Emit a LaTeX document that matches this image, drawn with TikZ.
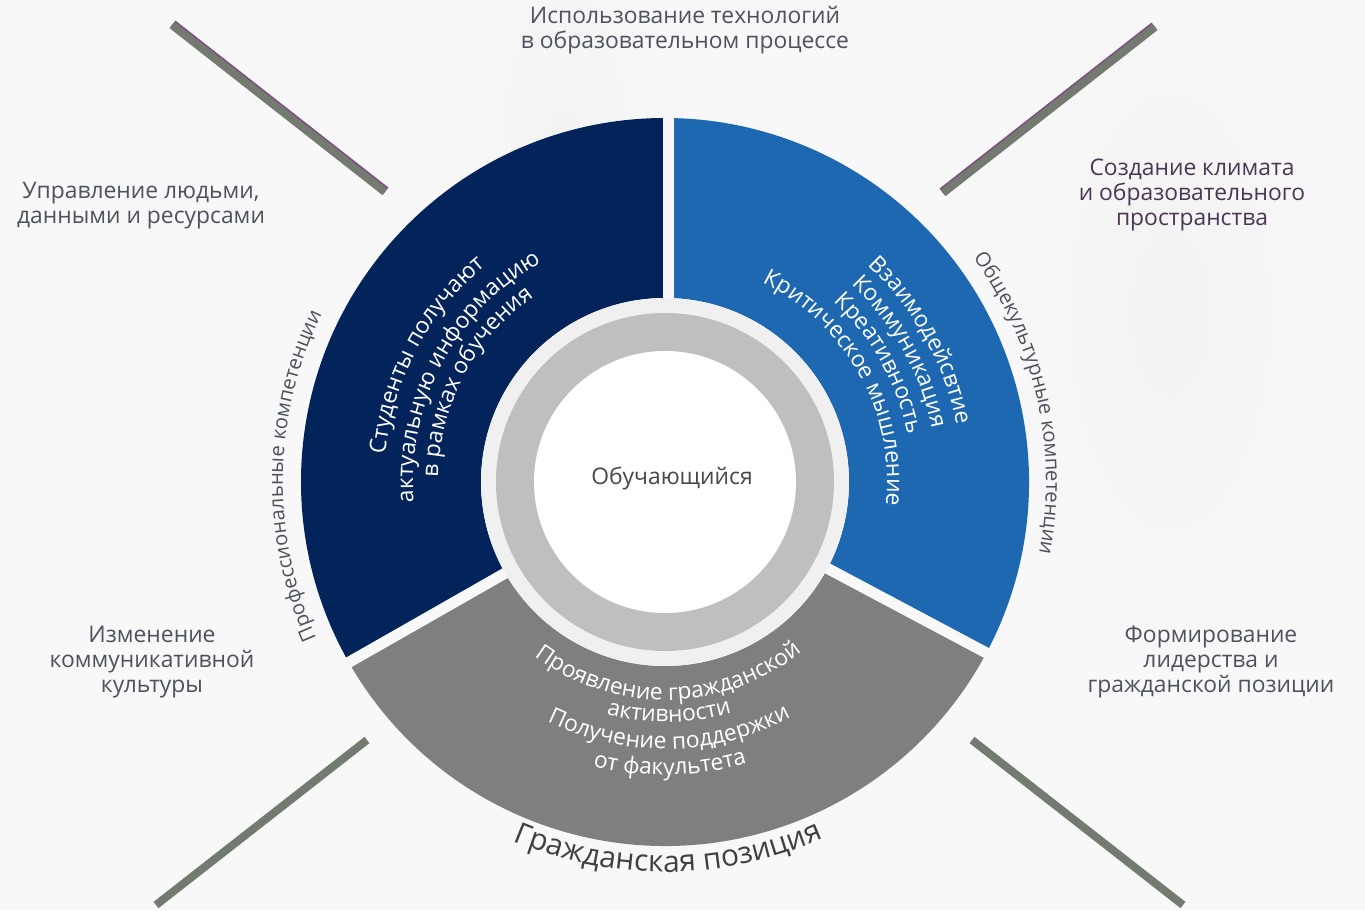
\documentclass[tikz,border=0pt]{standalone}
\usepackage{fontspec}
\setmainfont{Open Sans}
\usetikzlibrary{decorations.text}

\definecolor{pagebg}{HTML}{F8F8F9}
\definecolor{navy}{HTML}{02245A}
\definecolor{midblue}{HTML}{1E67B1}
\definecolor{sectgray}{HTML}{7F7F7F}
\definecolor{ringgray}{HTML}{BFBFBF}
\definecolor{ringlight}{HTML}{F0F0F0}
\definecolor{labelgray}{HTML}{4D525C}
\definecolor{plum}{HTML}{4B3653}
\definecolor{raygray}{HTML}{737B70}
\definecolor{raytint}{HTML}{7E4F82}

\newcommand{\outerfont}{\fontsize{13}{14.2}\selectfont}
\newcommand{\ringfont}{\fontsize{13}{15}\selectfont}
\newcommand{\sidearcfont}{\fontsize{11.5}{13}\selectfont}
\newcommand{\civicfont}{\fontsize{17}{19}\selectfont}

\begin{document}
\begin{tikzpicture}[x=0.02cm, y=0.02cm,
    arctext/.style={decorate, decoration={text along path, text align=center, text={#1}}},
    outertext/.style={text=labelgray, font=\outerfont, align=center},
    gapline/.style={draw=pagebg, line width=0.22cm},
    ray/.style={draw=raygray, line width=0.16cm},
    raytop/.style={draw=raytint, line width=0.16cm}]
    \fill[pagebg] (-665,-428) rectangle (700,482);
    \useasboundingbox (-665,-428) rectangle (700,482);

    % faint shadows in the back
    \shade[inner color=black!5, outer color=pagebg] (-100,300) ellipse (110 and 330);
    \shade[inner color=black!5, outer color=pagebg] (505,170) ellipse (170 and 380);

    % three sectors
    \fill[navy] (90:184) -- (90:364) arc[start angle=90, end angle=209.7, radius=364]
        -- (209.7:184) arc[start angle=209.7, end angle=90, radius=184] -- cycle;
    \fill[sectgray] (209.7:184) -- (209.7:364) arc[start angle=209.7, end angle=332, radius=364]
        -- (332:184) arc[start angle=332, end angle=209.7, radius=184] -- cycle;
    \fill[midblue] (332:184) -- (332:364) arc[start angle=332, end angle=450, radius=364]
        -- (450:184) arc[start angle=450, end angle=332, radius=184] -- cycle;
    \draw[gapline] (3,170) -- (3,372);
    \draw[gapline] (209.7:170) -- (209.7:372);
    \draw[gapline] (332:170) -- (332:372);

    % centre
    \fill[ringlight] (0,0) circle (184);
    \fill[ringgray] (0,0) circle (169);
    \fill[white] (0,0) circle (131);
    \node[text=black!72, font=\outerfont] (learner) at (7,4) {Обучающийся};

    % dark sector
    \path[arctext={|\ringfont\color{white}|Студенты получают}] (222:281) arc[start angle=222, end angle=82, radius=281];
    \path[arctext={|\ringfont\color{white}|актуальную информацию}] (222:252) arc[start angle=222, end angle=82, radius=252];
    \path[arctext={|\ringfont\color{white}|в рамках обучения}] (222:227) arc[start angle=222, end angle=82, radius=227];

    % blue sector
    \path[arctext={|\ringfont\color{white}|Взаимодейсвтие}] (99:297) arc[start angle=99, end angle=-41, radius=297];
    \path[arctext={|\ringfont\color{white}|Коммуникация}] (99:272) arc[start angle=99, end angle=-41, radius=272];
    \path[arctext={|\ringfont\color{white}|Креативность}] (99:247) arc[start angle=99, end angle=-41, radius=247];
    \path[arctext={|\ringfont\color{white}|Критическое мышление}] (99:222) arc[start angle=99, end angle=-41, radius=222];

    % gray sector
    \path[arctext={|\ringfont\color{white}|Проявление гражданской}] (201:218) arc[start angle=201, end angle=341, radius=218];
    \path[arctext={|\ringfont\color{white}|активности}] (201:240) arc[start angle=201, end angle=341, radius=240];
    \path[arctext={|\ringfont\color{white}|Получение поддержки}] (201:267) arc[start angle=201, end angle=341, radius=267];
    \path[arctext={|\ringfont\color{white}|от факультета}] (201:293) arc[start angle=201, end angle=341, radius=293];

    % around the ring
    \path[arctext={|\sidearcfont\color{labelgray}|Профессиональные компетенции}] (249:382) arc[start angle=249, end angle=109, radius=382];
    \path[arctext={|\sidearcfont\color{labelgray}|Общекультурные компетенции}] (82.6:381) arc[start angle=82.6, end angle=-57.4, radius=381];
    \path[arctext={|\civicfont\color{black!75}|Гражданская позиция}] (200:390) arc[start angle=200, end angle=341, radius=390];

    % labels
    \node[outertext] (tech) at (20,452) {Использование технологий\\в образовательном процессе};
    \node[outertext] (people) at (-524,276) {Управление людьми,\\данными и ресурсами};
    \node[outertext, text=plum] (climate) at (527,287) {Создание климата\\и образовательного\\пространства};
    \node[outertext] (culture) at (-513,-180) {Изменение\\коммуникативной\\культуры};
    \node[outertext] (leader) at (546,-180) {Формирование\\лидерства и\\гражданской позиции};

    % rays
    \coordinate (nwA) at (-493,457);
    \coordinate (nwB) at (-280,290);
    \coordinate (neA) at (490,455);
    \coordinate (neB) at (278,289);
    \coordinate (swA) at (-298,-258);
    \coordinate (swB) at (-509,-423);
    \coordinate (seA) at (307,-258);
    \coordinate (seB) at (518,-423);
    \draw[raytop] ([shift={(1,1.3)}]nwA) -- ([shift={(1,1.3)}]nwB);
    \draw[ray] (nwA) -- (nwB);
    \draw[raytop] ([shift={(-1,1.3)}]neA) -- ([shift={(-1,1.3)}]neB);
    \draw[ray] (neA) -- (neB);
    \draw[ray] (swA) -- (swB);
    \draw[ray] (seA) -- (seB);
\end{tikzpicture}
\end{document}
